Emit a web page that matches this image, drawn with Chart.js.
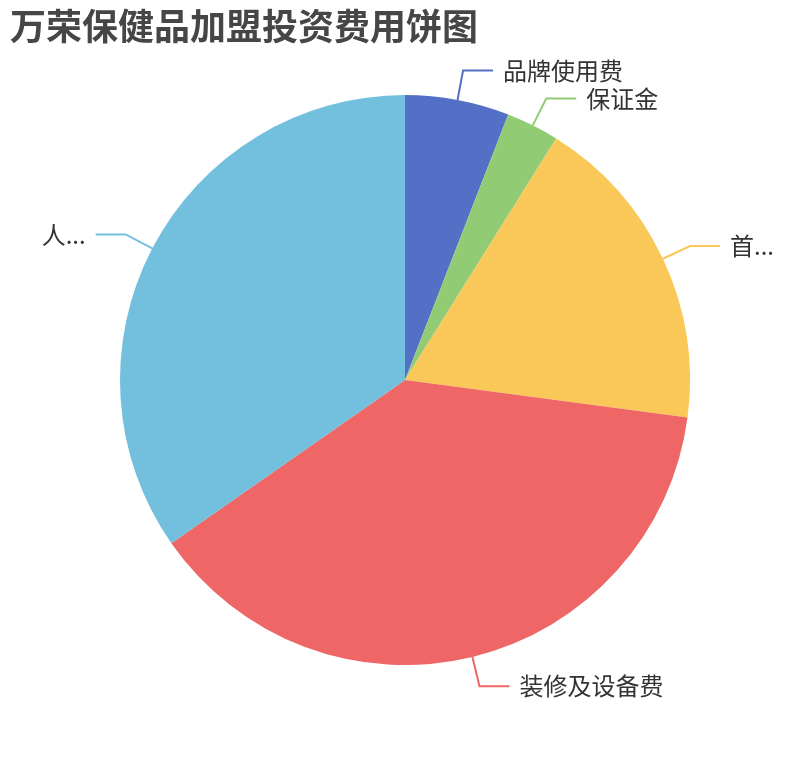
<!DOCTYPE html>
<html>
<head>
<meta charset="utf-8">
<script src="https://cdn.jsdelivr.net/npm/chart.js@4.4.1/dist/chart.umd.min.js"></script>
<style>
  html, body { margin: 0; padding: 0; background: #fff; }
  #wrap { width: 810px; height: 760px; }
</style>
</head>
<body>
<div id="wrap"><canvas id="chart" width="810" height="760"></canvas></div>
<script>
const titleText = '万荣保健品加盟投资费用饼图';
const categories = ['品牌使用费', '保证金', '首...', '装修及设备费', '人...'];
const values = [5.9, 3.0, 18.2, 38.2, 34.7];
const colors = ['#5470c6', '#91cc75', '#fac858', '#ee6666', '#73c0de'];

const fontFamily = '"Noto Sans CJK SC", "Noto Sans", sans-serif';

// labels outside the pie with an elbow line, echarts style
const outsideLabels = {
    id: 'outsideLabels',
    afterDatasetsDraw(chart) {
        const ctx = chart.ctx;
        const meta = chart.getDatasetMeta(0);
        ctx.save();
        ctx.font = '24px ' + fontFamily;
        ctx.textBaseline = 'middle';
        meta.data.forEach((arc, i) => {
            const mid = (arc.startAngle + arc.endAngle) / 2;
            const r = arc.outerRadius;
            const cos = Math.cos(mid), sin = Math.sin(mid);
            const x0 = arc.x + cos * r, y0 = arc.y + sin * r;
            const x1 = arc.x + cos * (r + 30), y1 = arc.y + sin * (r + 30);
            const right = cos >= 0;
            const x2 = x1 + (right ? 30 : -30);

            ctx.strokeStyle = colors[i];
            ctx.lineWidth = 2;
            ctx.beginPath();
            ctx.moveTo(x0, y0);
            ctx.lineTo(x1, y1);
            ctx.lineTo(x2, y1);
            ctx.stroke();

            ctx.fillStyle = '#333';
            ctx.textAlign = right ? 'left' : 'right';
            ctx.fillText(categories[i], x2 + (right ? 10 : -10), y1);
        });
        ctx.restore();
    }
};

new Chart(document.getElementById('chart'), {
    type: 'pie',
    data: {
        labels: categories,
        datasets: [{
            data: values,
            backgroundColor: colors,
            borderWidth: 0
        }]
    },
    options: {
        responsive: false,
        animation: false,
        radius: 285,
        layout: {
            padding: { left: 10, right: 10, top: 0, bottom: 48 }
        },
        plugins: {
            legend: { display: false },
            tooltip: { enabled: false },
            title: {
                display: true,
                text: titleText,
                align: 'start',
                color: '#464646',
                font: { family: fontFamily, size: 36, weight: 'bold', lineHeight: 1.2 },
                padding: { top: 5, bottom: 0 }
            }
        }
    },
    plugins: [outsideLabels]
});
</script>
</body>
</html>
